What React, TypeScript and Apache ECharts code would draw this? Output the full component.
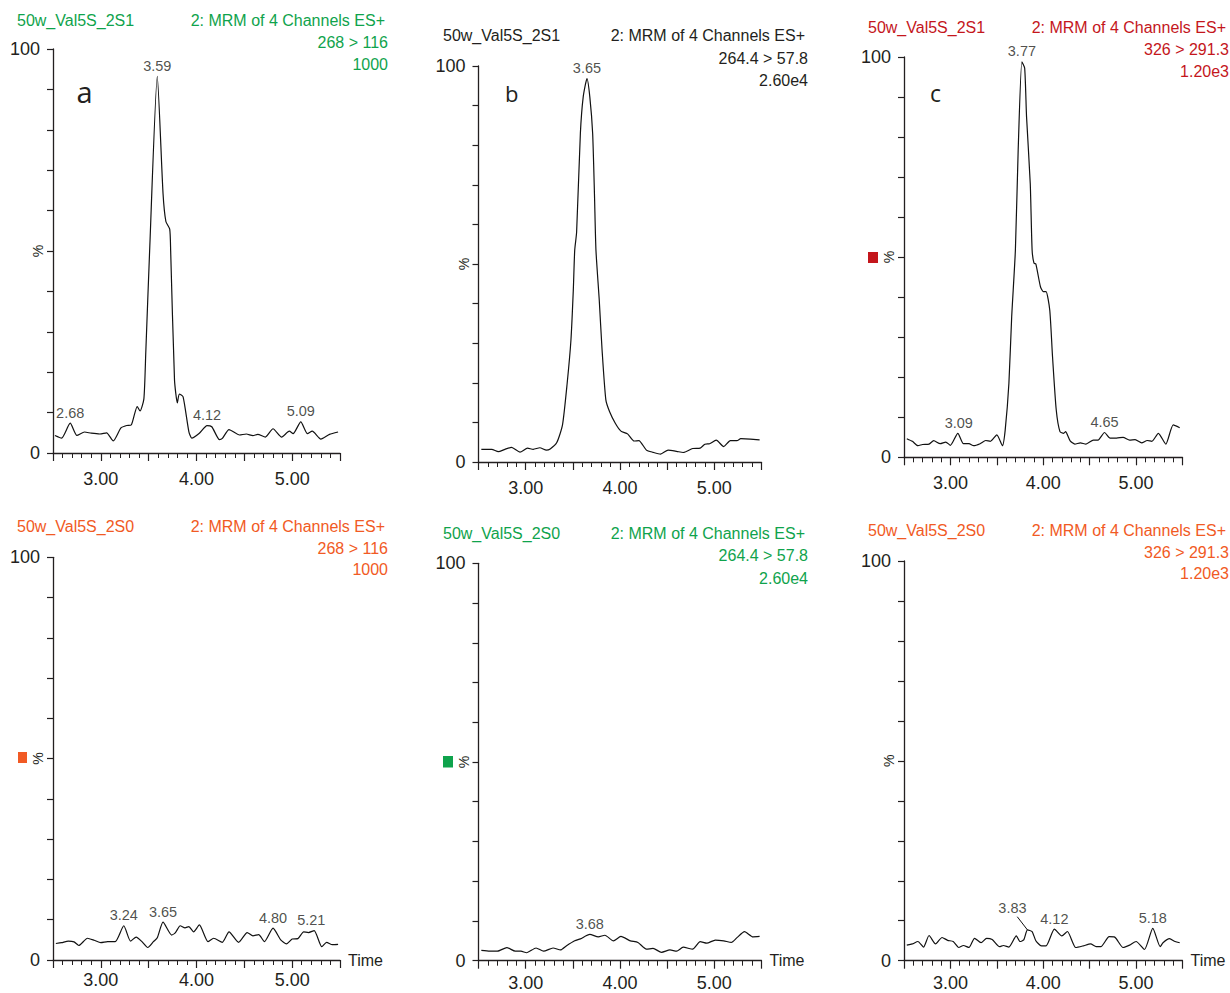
import React, { useEffect, useRef } from 'react';
import * as echarts from 'echarts';

// ---------- data (time in min, relative intensity in %) ----------
const traceA: number[][] = [[2.52,4.35],[2.59,3.7],[2.68,7.4],[2.75,4.35],[2.83,5.2],[2.90,4.9],[2.99,4.7],[3.06,5.0],[3.13,3.0],[3.21,6.2],[3.27,6.8],[3.32,7.0],[3.38,11.5],[3.41,10.4],[3.45,13.4],[3.47,25],[3.51,50],[3.59,93.2],[3.65,64.3],[3.68,57.3],[3.72,55.4],[3.73,50],[3.77,18.1],[3.80,12.4],[3.82,14.6],[3.86,13.9],[3.92,5.3],[3.95,3.7],[4.03,4.9],[4.11,6.8],[4.16,6.5],[4.24,3.3],[4.27,3.6],[4.34,5.8],[4.45,4.45],[4.52,4.7],[4.59,4.3],[4.64,4.6],[4.72,3.95],[4.80,6.0],[4.89,3.95],[4.97,5.4],[5.01,4.8],[5.09,7.7],[5.16,4.8],[5.21,5.4],[5.30,3.45],[5.39,4.6],[5.48,5.2]];
const traceB: number[][] = [[2.53,3.2],[2.64,3.2],[2.71,2.6],[2.78,3.2],[2.85,3.7],[2.94,2.5],[3.02,3.5],[3.08,3.2],[3.15,3.6],[3.22,3.0],[3.26,3.3],[3.33,4.9],[3.39,9.3],[3.44,19.9],[3.48,30.8],[3.505,43.4],[3.52,53.5],[3.54,58],[3.58,83],[3.61,92.2],[3.65,96.8],[3.68,92.2],[3.71,83],[3.73,67],[3.745,53.5],[3.78,40.9],[3.81,28.3],[3.85,15.7],[3.89,12.7],[3.95,9.8],[4.01,7.8],[4.08,7.1],[4.15,5.3],[4.20,5.4],[4.28,3.0],[4.35,2.45],[4.43,2.0],[4.51,3.0],[4.60,2.7],[4.67,2.4],[4.77,3.4],[4.85,3.5],[4.90,4.5],[4.95,4.6],[5.02,5.5],[5.10,3.9],[5.17,5.4],[5.24,5.4],[5.28,5.9],[5.38,5.8],[5.48,5.6]];
const traceC: number[][] = [[2.53,4.65],[2.59,4.0],[2.65,2.9],[2.70,3.2],[2.77,3.3],[2.82,4.15],[2.89,3.4],[2.95,3.8],[3.00,3.0],[3.08,6.0],[3.14,3.4],[3.20,3.4],[3.25,2.9],[3.32,3.4],[3.38,4.2],[3.43,4.0],[3.50,5.6],[3.56,2.9],[3.59,6.8],[3.63,18.5],[3.66,35.1],[3.70,51.8],[3.73,76.8],[3.77,98.8],[3.80,97.2],[3.82,85.1],[3.86,68.4],[3.88,51.8],[3.90,48.5],[3.92,48.3],[3.97,42.6],[4.00,41.4],[4.03,41.4],[4.07,36.8],[4.10,25.1],[4.14,11.8],[4.18,6.4],[4.22,6.0],[4.24,6.4],[4.29,4.1],[4.34,3.3],[4.40,3.6],[4.46,3.3],[4.54,4.3],[4.59,4.3],[4.66,6.2],[4.72,4.8],[4.79,4.8],[4.86,5.0],[4.93,4.3],[4.99,4.4],[5.06,3.6],[5.12,4.2],[5.17,4.0],[5.24,6.0],[5.32,3.3],[5.40,8.1],[5.47,7.4]];
const traceD: number[][] = [[2.53,4.1],[2.59,4.3],[2.66,4.7],[2.72,4.5],[2.77,3.6],[2.86,5.4],[2.93,4.9],[3.00,4.3],[3.07,4.55],[3.15,4.55],[3.24,8.5],[3.31,4.7],[3.37,5.7],[3.43,4.55],[3.49,3.1],[3.55,4.55],[3.59,5.5],[3.65,9.4],[3.74,6.2],[3.78,6.8],[3.83,8.5],[3.88,8.0],[3.92,8.3],[3.97,7.0],[4.03,8.7],[4.12,4.55],[4.18,5.4],[4.27,4.4],[4.34,7.0],[4.44,4.4],[4.53,6.8],[4.59,6.0],[4.65,6.3],[4.71,4.55],[4.80,7.9],[4.88,5.0],[4.94,4.0],[5.00,5.2],[5.06,5.3],[5.12,7.0],[5.17,6.8],[5.23,7.3],[5.31,3.3],[5.36,4.4],[5.42,3.8],[5.48,3.9]];
const traceE: number[][] = [[2.53,2.6],[2.62,2.4],[2.70,2.4],[2.80,3.3],[2.89,2.4],[2.95,2.4],[3.01,2.0],[3.11,3.2],[3.19,2.4],[3.29,3.2],[3.37,2.7],[3.43,3.7],[3.52,5.0],[3.58,5.5],[3.68,6.6],[3.77,6.0],[3.84,6.4],[3.93,5.0],[4.01,6.1],[4.11,5.0],[4.19,4.6],[4.28,2.9],[4.35,3.1],[4.44,2.1],[4.53,2.7],[4.60,2.4],[4.67,3.4],[4.77,2.9],[4.85,4.8],[4.92,4.4],[5.01,5.2],[5.10,5.0],[5.18,4.6],[5.24,5.8],[5.32,7.3],[5.41,6.0],[5.48,6.1]];
const traceF: number[][] = [[2.53,3.9],[2.59,4.2],[2.65,4.8],[2.71,3.4],[2.77,6.3],[2.84,4.2],[2.91,5.8],[2.97,5.1],[3.03,4.8],[3.09,3.3],[3.14,3.8],[3.20,3.3],[3.26,5.6],[3.33,4.5],[3.39,5.6],[3.45,5.3],[3.53,3.5],[3.57,3.8],[3.63,3.4],[3.71,6.2],[3.75,4.8],[3.79,5.2],[3.83,7.7],[3.88,7.3],[3.92,5.0],[3.98,3.7],[4.03,3.7],[4.12,7.9],[4.20,6.2],[4.26,7.3],[4.35,3.3],[4.43,3.7],[4.51,4.2],[4.57,3.5],[4.62,3.5],[4.71,6.0],[4.77,5.9],[4.86,3.3],[4.93,3.9],[5.00,4.8],[5.09,2.8],[5.18,8.1],[5.26,3.5],[5.29,4.5],[5.36,5.5],[5.42,4.8],[5.47,4.5]];

// peak annotations: [time, intensity, label]
const peaksA: [number, number, string][] = [[2.68,7.4,'2.68'],[3.59,93.2,'3.59'],[4.11,6.8,'4.12'],[5.09,7.7,'5.09']];
const peaksB: [number, number, string][] = [[3.65,96.8,'3.65']];
const peaksC: [number, number, string][] = [[3.09,6.0,'3.09'],[3.77,98.8,'3.77'],[4.66,6.2,'4.65']];
const peaksD: [number, number, string][] = [[3.24,8.5,'3.24'],[3.65,9.4,'3.65'],[4.80,7.9,'4.80'],[5.20,7.3,'5.21']];
const peaksE: [number, number, string][] = [[3.68,6.6,'3.68']];
const peaksF: [number, number, string][] = [[3.83,7.7,'3.83'],[4.12,7.9,'4.12'],[5.18,8.1,'5.18']];
// leader line for the displaced "3.83" label
const leaderF: number[][] = [[3.72,11.0],[3.83,7.7]];

const headerA = ['50w_Val5S_2S1', '2: MRM of 4 Channels ES+', '268 > 116', '1000'];
const headerB = ['50w_Val5S_2S1', '2: MRM of 4 Channels ES+', '264.4 > 57.8', '2.60e4'];
const headerC = ['50w_Val5S_2S1', '2: MRM of 4 Channels ES+', '326 > 291.3', '1.20e3'];
const headerD = ['50w_Val5S_2S0', '2: MRM of 4 Channels ES+', '268 > 116', '1000'];
const headerE = ['50w_Val5S_2S0', '2: MRM of 4 Channels ES+', '264.4 > 57.8', '2.60e4'];
const headerF = ['50w_Val5S_2S0', '2: MRM of 4 Channels ES+', '326 > 291.3', '1.20e3'];

const yLabelled = [0, 100];
const xRange = [2.5, 5.5];

// ---------- styling ----------
const FONT = 'Liberation Sans, Arial, Helvetica, sans-serif';
const INK = '#231f20';
const GREEN = '#0fa34c';
const RED = '#c4161c';
const ORANGE = '#f15a24';

type Panel = {
  trace: number[][];
  peaks: [number, number, string][];
  header: string[];
  color: string;
  grid: [number, number, number, number];
  hx: [number, number];
  hy: [number, number, number];
  time: boolean;
  xMargin: number;
  letter?: { t: string; x: number; y: number; size: number };
  square?: [number, number, number, number];
  leader?: number[][];
  peakOffsets?: Record<string, [number, number]>;
};

const panels: Panel[] = [
  { trace: traceA, peaks: peaksA, header: headerA, color: GREEN, grid: [53, 49, 287, 404], hx: [17, 388], hy: [20, 42, 64], time: false, xMargin: 17, letter: { t: 'a', x: 84.5, y: 91, size: 29 } },
  { trace: traceB, peaks: peaksB, header: headerB, color: INK, grid: [478.5, 66, 283, 396], hx: [443, 808], hy: [35, 58, 80], time: false, xMargin: 16.5, letter: { t: 'b', x: 511.7, y: 93.3, size: 22 } },
  { trace: traceC, peaks: peaksC, header: headerC, color: RED, grid: [904, 57, 278.5, 400.3], hx: [868, 1229], hy: [27, 49, 71], time: false, xMargin: 17, letter: { t: 'c', x: 935.5, y: 93, size: 23 }, square: [868, 252, 10, 11] },
  { trace: traceD, peaks: peaksD, header: headerD, color: ORANGE, grid: [53, 557.3, 287, 402.7], hx: [17, 388], hy: [526, 548, 569.5], time: true, xMargin: 11, square: [18, 752, 9, 11] },
  { trace: traceE, peaks: peaksE, header: headerE, color: GREEN, grid: [478.5, 563.3, 283, 397.4], hx: [443, 808], hy: [533.5, 555.5, 578], time: true, xMargin: 13, square: [443, 756, 10, 11.5] },
  { trace: traceF, peaks: peaksF, header: headerF, color: ORANGE, grid: [904, 561, 278.5, 399.7], hx: [868, 1229], hy: [530, 552, 573.5], time: true, xMargin: 13, leader: leaderF, peakOffsets: { '3.83': [-15, -11] } },
];

function buildOption(): echarts.EChartsCoreOption {
  const grid = panels.map((p) => ({
    left: p.grid[0], top: p.grid[1], width: p.grid[2], height: p.grid[3],
    containLabel: false, outerBoundsMode: 'none',
  }));
  const xAxis = panels.map((p, i) => ({
    type: 'value', gridIndex: i, min: xRange[0], max: xRange[1], interval: 0.5,
    axisLine: { show: true, onZero: false, lineStyle: { color: INK, width: 1.3 } },
    axisTick: { show: true, interval: 0, length: 8, lineStyle: { color: INK, width: 1.2 } },
    minorTick: { show: true, splitNumber: 5, length: 5, lineStyle: { color: INK, width: 1 } },
    splitLine: { show: false },
    axisLabel: {
      interval: 0, fontSize: 18, color: INK, fontFamily: FONT, margin: p.xMargin,
      formatter: (v: number) => (Math.abs(v - Math.round(v)) < 1e-6 ? v.toFixed(2) : ''),
    },
    name: p.time ? 'Time' : '', nameLocation: 'end', nameGap: 8, nameMoveOverlap: false,
    nameTextStyle: { fontSize: 16, color: INK, fontFamily: FONT },
  }));
  const yAxis = panels.map((p, i) => ({
    type: 'value', gridIndex: i, min: 0, max: 100, interval: 10,
    axisLine: { show: true, lineStyle: { color: INK, width: 1.3 } },
    axisTick: { show: true, interval: 0, length: 6, lineStyle: { color: INK, width: 1.2 } },
    splitLine: { show: false },
    axisLabel: {
      interval: 0, hideOverlap: false, fontSize: 18, color: INK, fontFamily: FONT, margin: 13,
      formatter: (v: number) => (yLabelled.indexOf(Math.round(v)) >= 0 ? String(Math.round(v)) : ''),
    },
    name: '%', nameLocation: 'middle', nameGap: 8, nameMoveOverlap: false,
    nameTextStyle: { fontSize: 14, color: INK, fontFamily: FONT },
  }));

  const series: any[] = [];
  panels.forEach((p, i) => {
    series.push({
      type: 'line', xAxisIndex: i, yAxisIndex: i, data: p.trace, symbol: 'none', smooth: 0.2,
      lineStyle: { color: '#111', width: 1.2 }, silent: true, z: 2,
    });
    series.push({
      type: 'scatter', xAxisIndex: i, yAxisIndex: i, symbolSize: 0, silent: true, z: 3,
      itemStyle: { color: 'rgba(0,0,0,0)' },
      label: { show: true, position: 'top', distance: 3, fontSize: 14.5, color: INK, fontFamily: FONT },
      data: p.peaks.map((pk) => ({
        value: [pk[0], pk[1]],
        label: { formatter: pk[2], offset: (p.peakOffsets && p.peakOffsets[pk[2]]) || [0, 0] },
      })),
    });
    if (p.leader) {
      series.push({
        type: 'line', xAxisIndex: i, yAxisIndex: i, data: p.leader, symbol: 'none',
        lineStyle: { color: '#111', width: 1 }, silent: true, z: 2,
      });
    }
  });

  const graphic: any[] = [];
  panels.forEach((p) => {
    const font = `16px ${FONT}`;
    graphic.push({ type: 'text', x: p.hx[0], y: p.hy[0], silent: true, style: { text: p.header[0], fill: p.color, font, align: 'left', verticalAlign: 'middle' } });
    graphic.push({ type: 'text', x: p.hx[1] - 3, y: p.hy[0], silent: true, style: { text: p.header[1], fill: p.color, font, align: 'right', verticalAlign: 'middle' } });
    graphic.push({ type: 'text', x: p.hx[1], y: p.hy[1], silent: true, style: { text: p.header[2], fill: p.color, font, align: 'right', verticalAlign: 'middle' } });
    graphic.push({ type: 'text', x: p.hx[1], y: p.hy[2], silent: true, style: { text: p.header[3], fill: p.color, font, align: 'right', verticalAlign: 'middle' } });
    if (p.letter) {
      graphic.push({ type: 'text', x: p.letter.x, y: p.letter.y, silent: true, style: { text: p.letter.t, fill: INK, font: `${p.letter.size}px Open Sans, DejaVu Sans, sans-serif`, align: 'center', verticalAlign: 'middle' } });
    }
    if (p.square) {
      graphic.push({ type: 'rect', silent: true, shape: { x: p.square[0], y: p.square[1], width: p.square[2], height: p.square[3] }, style: { fill: p.color } });
    }
  });

  return {
    animation: false,
    backgroundColor: '#ffffff',
    textStyle: { fontFamily: FONT },
    grid, xAxis, yAxis, series, graphic,
  };
}

export default function App() {
  const ref = useRef<HTMLDivElement>(null);
  useEffect(() => {
    if (!ref.current) return;
    const chart = echarts.init(ref.current, undefined, { renderer: 'svg' });
    chart.setOption(buildOption());
    return () => chart.dispose();
  }, []);
  return <div ref={ref} style={{ position: 'absolute', left: 0, top: 0, width: 1230, height: 993, background: '#fff' }} />;
}
